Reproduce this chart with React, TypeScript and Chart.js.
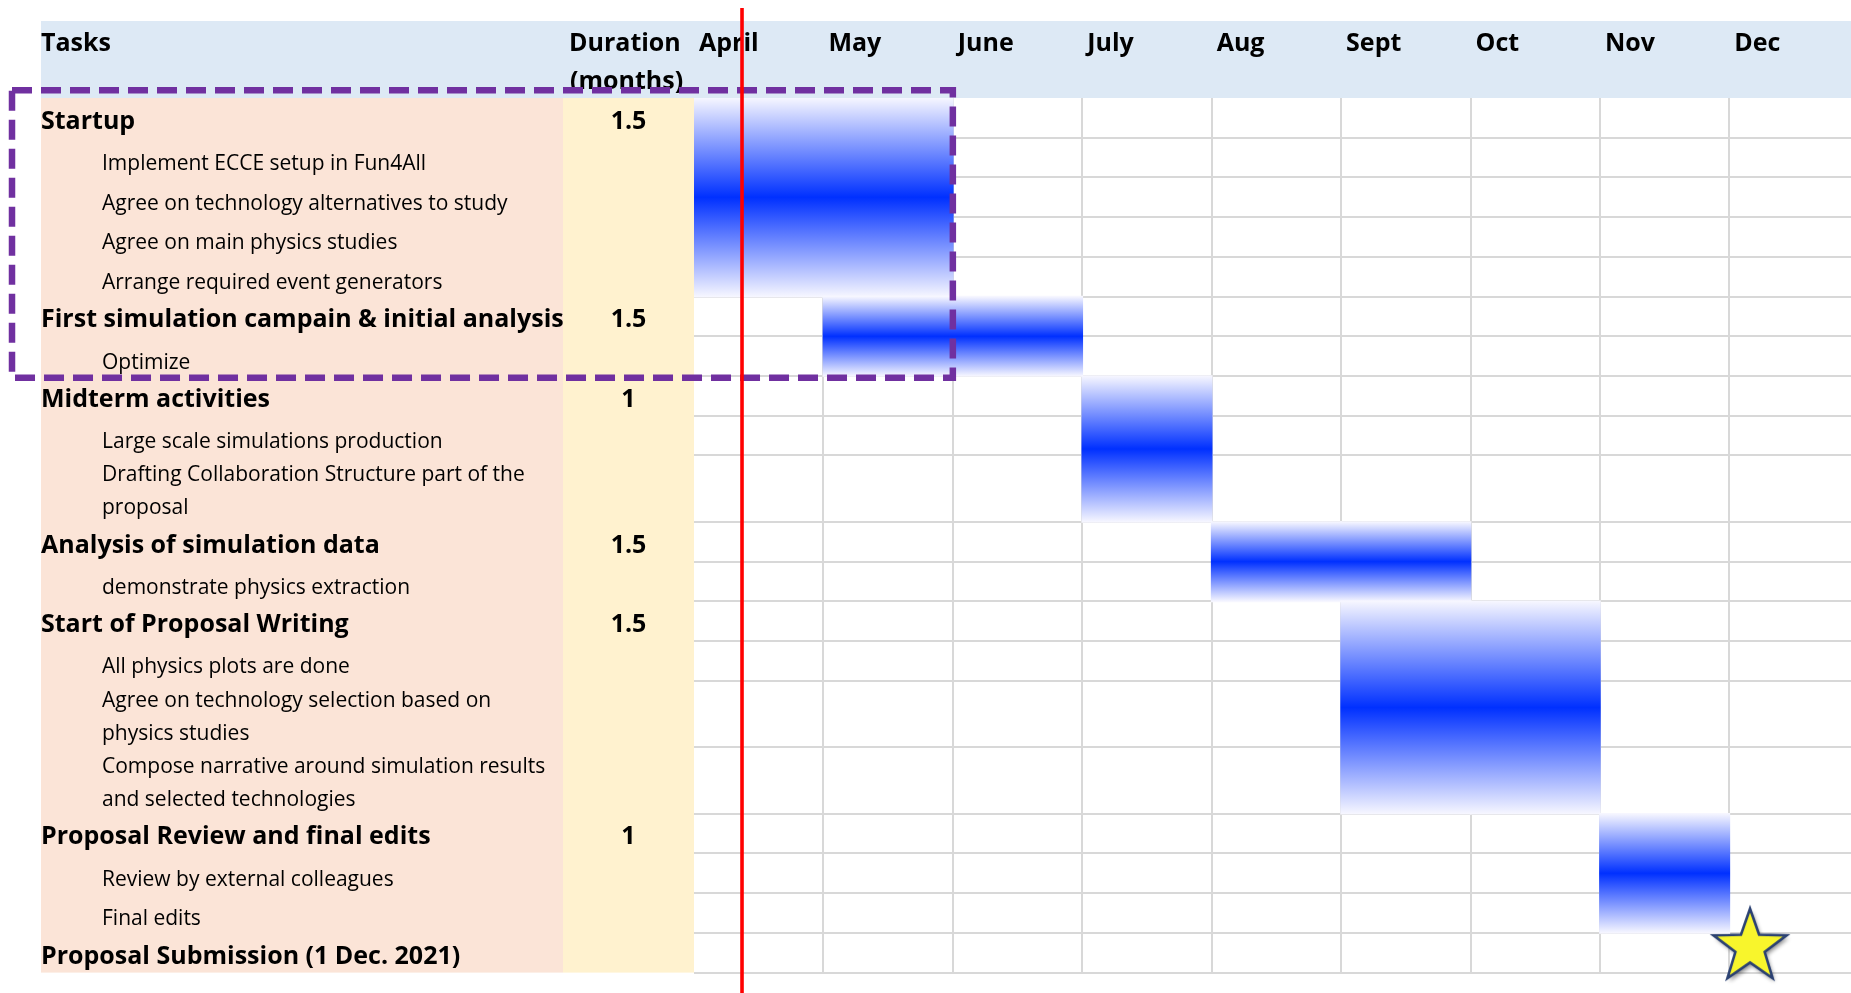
import React, { useEffect, useRef } from "react";
import { Chart, registerables } from "chart.js";

Chart.register(...registerables);

// ---------------- data ----------------
const months = ["April", "May", "June", "July", "Aug", "Sept", "Oct", "Nov", "Dec"];

const rowLabels = [
  "Startup",
  "Implement ECCE setup in Fun4All",
  "Agree on technology alternatives to study",
  "Agree on main physics studies",
  "Arrange required event generators",
  "First simulation campain & initial analysis",
  "Optimize",
  "Midterm activities",
  "Large scale simulations production",
  "Drafting Collaboration Structure part of the\nproposal",
  "Analysis of simulation data",
  "demonstrate physics extraction",
  "Start of Proposal Writing",
  "All physics plots are done",
  "Agree on technology selection based on\nphysics studies",
  "Compose narrative around simulation results\nand selected technologies",
  "Proposal Review and final edits",
  "Review by external colleagues",
  "Final edits",
  "Proposal Submission (1 Dec. 2021)",
];

const rowIsTask = [true, false, false, false, false, true, false, true, false, false, true, false, true, false, false, false, true, false, false, true];

const rowDuration = ["1.5", "", "", "", "", "1.5", "", "1", "", "", "1.5", "", "1.5", "", "", "", "1", "", "", ""];

// blocks (month index from April = 0)
const blockStartMonth = [0, 1, 3, 4, 5, 7];
const blockEndMonth = [2, 3, 4, 6, 7, 8];
const blockFirstRow = [0, 5, 7, 10, 12, 16];
const blockLastRow = [4, 6, 9, 11, 15, 18];

const todayMonth = 0.371;
const submissionMonth = 8.16;
const submissionRowPos = 19.36;

const highlightLastMonth = 2;
const highlightFirstRow = 0;
const highlightLastRow = 6;

const visibleMonths = 8.94;

// ---------------- layout / style ----------------
const W = 1851;
const H = 993;
const HEADER_TOP = 21;
const GRID_TOP = 98;
const GRID_BOTTOM = 972.6;
const TABLE_LEFT = 41;
const DUR_LEFT = 563;
const GRID_LEFT = 694;
const SUB_INDENT = 61;
const DOUBLE_ROW = 1.673;

const HEADER_BG = "#dde9f5";
const TASK_BG = "#fbe4d7";
const DUR_BG = "#fff2cf";
const GRID_COLOR = "#d8d8d8";
const FONT_FAMILY = '"Open Sans", "DejaVu Sans", sans-serif';
const BOLD_FONT = `bold 25px ${FONT_FAMILY}`;
const REG_FONT = `21px ${FONT_FAMILY}`;

const rowHeights = rowLabels.map((l) => (l.includes("\n") ? DOUBLE_ROW : 1));
const rowStarts: number[] = [];
{
  let acc = 0;
  rowHeights.forEach((h) => {
    rowStarts.push(acc);
    acc += h;
  });
}
const totalUnits = rowHeights.reduce((a, b) => a + b, 0);
const rowEnd = (r: number) => rowStarts[r] + rowHeights[r];
const rowPosToValue = (p: number) => {
  const r = Math.floor(p);
  return rowStarts[r] + (p - r) * rowHeights[r];
};

// one bar per month cell of each block
const barData: { x: number; y: [number, number] }[] = [];
blockStartMonth.forEach((s, i) => {
  for (let m = s; m < blockEndMonth[i]; m++) {
    barData.push({ x: m + 0.5, y: [rowStarts[blockFirstRow[i]], rowEnd(blockLastRow[i])] });
  }
});

function makeStar(): HTMLCanvasElement {
  const c = document.createElement("canvas");
  c.width = 96;
  c.height = 96;
  const g = c.getContext("2d")!;
  const cx = 48, cy = 48, R = 38.5, r = R * 0.4;
  g.beginPath();
  for (let i = 0; i < 10; i++) {
    const ang = -Math.PI / 2 + (i * Math.PI) / 5;
    const rad = i % 2 === 0 ? R : r;
    const px = cx + rad * Math.cos(ang);
    const py = cy + rad * Math.sin(ang);
    if (i === 0) g.moveTo(px, py);
    else g.lineTo(px, py);
  }
  g.closePath();
  g.shadowColor = "rgba(0,0,0,0.45)";
  g.shadowBlur = 4;
  g.shadowOffsetX = 2;
  g.shadowOffsetY = 3;
  g.fillStyle = "#f8f52c";
  g.fill();
  g.shadowColor = "transparent";
  g.lineWidth = 2.6;
  g.strokeStyle = "#2b4172";
  g.lineJoin = "miter";
  g.stroke();
  return c;
}

const tablePlugin = {
  id: "ganttTable",
  beforeDraw(chart: any) {
    const { ctx, chartArea } = chart;
    const ys = chart.scales.y;
    const top = ys.getPixelForValue(0);
    const bottom = ys.getPixelForValue(totalUnits);
    ctx.save();
    ctx.fillStyle = "#ffffff";
    ctx.fillRect(0, 0, chart.width, chart.height);
    ctx.fillStyle = HEADER_BG;
    ctx.fillRect(TABLE_LEFT, HEADER_TOP, chart.width - TABLE_LEFT, top - HEADER_TOP);
    ctx.fillStyle = TASK_BG;
    ctx.fillRect(TABLE_LEFT, top, DUR_LEFT - TABLE_LEFT, bottom - top);
    ctx.fillStyle = DUR_BG;
    ctx.fillRect(DUR_LEFT, top, chartArea.left - DUR_LEFT, bottom - top);
    ctx.restore();
  },
  afterDatasetsDraw(chart: any) {
    const { ctx, chartArea } = chart;
    const xs = chart.scales.x;
    const ys = chart.scales.y;
    ctx.save();
    ctx.fillStyle = "#000000";
    ctx.textBaseline = "alphabetic";
    // header
    ctx.font = BOLD_FONT;
    ctx.textAlign = "left";
    const headBase = 50.7;
    ctx.fillText("Tasks", TABLE_LEFT, headBase);
    ctx.fillText("Duration", DUR_LEFT + 6, headBase);
    ctx.fillText("(months)", DUR_LEFT + 7, headBase + 38.5);
    months.forEach((m, i) => {
      ctx.fillText(m, xs.getPixelForValue(i) + 5, headBase);
    });
    // rows
    const durCenter = (DUR_LEFT + chartArea.left) / 2;
    rowLabels.forEach((label, r) => {
      const bottomPx = ys.getPixelForValue(rowEnd(r));
      const lines = label.split("\n");
      const bold = rowIsTask[r];
      ctx.font = bold ? BOLD_FONT : REG_FONT;
      ctx.textAlign = "left";
      const base = bottomPx - (bold ? 9 : 7.5);
      lines.forEach((ln, k) => {
        const b = base - (lines.length - 1 - k) * 33;
        ctx.fillText(ln, bold ? TABLE_LEFT : TABLE_LEFT + SUB_INDENT, b);
      });
      if (rowDuration[r]) {
        ctx.font = BOLD_FONT;
        ctx.textAlign = "center";
        ctx.fillText(rowDuration[r], durCenter, base);
      }
    });
    // highlight rectangle
    const hl = {
      left: 12,
      top: ys.getPixelForValue(rowStarts[highlightFirstRow]) - 7.7,
      right: xs.getPixelForValue(highlightLastMonth),
      bottom: ys.getPixelForValue(rowEnd(highlightLastRow)) + 1.6,
    };
    ctx.strokeStyle = "#7030a0";
    ctx.lineWidth = 6.5;
    ctx.setLineDash([20, 9]);
    ctx.lineCap = "butt";
    ctx.strokeRect(hl.left, hl.top, hl.right - hl.left, hl.bottom - hl.top);
    ctx.setLineDash([]);
    // today line
    const tx = xs.getPixelForValue(todayMonth);
    ctx.strokeStyle = "#ff0000";
    ctx.lineWidth = 3.6;
    ctx.beginPath();
    ctx.moveTo(tx, 8);
    ctx.lineTo(tx, chart.height);
    ctx.stroke();
    ctx.restore();
  },
};

export default function App() {
  const canvasRef = useRef<HTMLCanvasElement | null>(null);

  useEffect(() => {
    document.body.style.margin = "0";
    const canvas = canvasRef.current;
    if (!canvas) return;
    const star = makeStar();

    const blockFill = (c: any) => {
      if (c.type !== "data" || !c.raw) return "#0030ff";
      const ys = c.chart.scales.y;
      const t = ys.getPixelForValue(c.raw.y[0]);
      const b = ys.getPixelForValue(c.raw.y[1]);
      if (!isFinite(t) || !isFinite(b) || t === b) return "#0030ff";
      const g = c.chart.ctx.createLinearGradient(0, Math.min(t, b), 0, Math.max(t, b));
      g.addColorStop(0, "#f6f6ff");
      g.addColorStop(0.5, "#0030ff");
      g.addColorStop(1, "#f6f6ff");
      return g;
    };

    const chart = new Chart(canvas, {
      type: "bar",
      data: {
        datasets: [
          {
            type: "bar",
            label: "Blocks",
            data: barData as any,
            backgroundColor: blockFill as any,
            borderWidth: 0,
            borderSkipped: false,
            barPercentage: 1,
            categoryPercentage: 1,
            inflateAmount: 0.8,
            grouped: false,
          } as any,
          {
            type: "scatter",
            label: "Submission",
            data: [{ x: submissionMonth, y: rowPosToValue(submissionRowPos) }],
            pointStyle: star as any,
            pointRadius: 1,
            pointBorderWidth: 0,
            clip: false,
          } as any,
        ],
      },
      plugins: [tablePlugin],
      options: {
        responsive: false,
        animation: false,
        events: [],
        layout: {
          autoPadding: false,
          padding: { left: GRID_LEFT, top: GRID_TOP, right: 0, bottom: H - GRID_BOTTOM },
        },
        plugins: { legend: { display: false }, tooltip: { enabled: false } },
        scales: {
          x: {
            type: "linear",
            min: 0,
            max: visibleMonths,
            offset: false,
            afterBuildTicks: (s: any) => {
              s.ticks = months.slice(1).map((_, i) => ({ value: i + 1 }));
            },
            ticks: { display: false },
            grid: { color: GRID_COLOR, lineWidth: 2, drawTicks: false, offset: false },
            border: { display: false },
          },
          y: {
            type: "linear",
            reverse: true,
            min: 0,
            max: totalUnits,
            afterBuildTicks: (s: any) => {
              s.ticks = rowLabels.map((_, r) => ({ value: rowEnd(r) }));
            },
            ticks: { display: false },
            grid: { color: GRID_COLOR, lineWidth: 2, drawTicks: false },
            border: { display: false },
          },
        },
      },
    } as any);
    return () => chart.destroy();
  }, []);

  return (
    <div style={{ width: W, height: H }}>
      <canvas ref={canvasRef} width={W} height={H} style={{ display: "block" }} />
    </div>
  );
}
